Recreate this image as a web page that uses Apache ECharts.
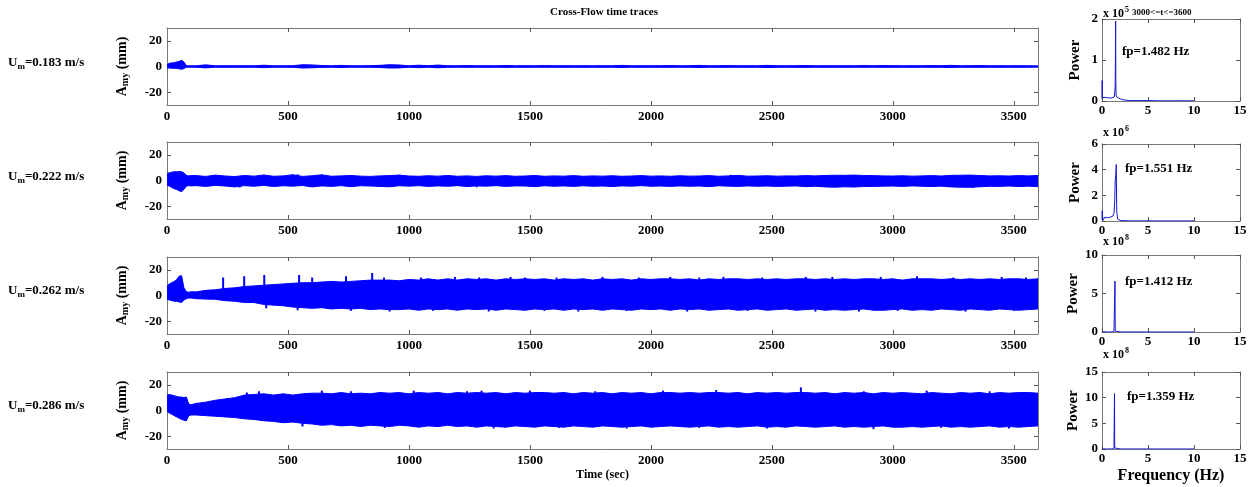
<!DOCTYPE html>
<html><head><meta charset="utf-8">
<script src="https://cdn.jsdelivr.net/npm/echarts@6/dist/echarts.min.js"></script>
<style>html,body{margin:0;padding:0;background:#fff}#c{width:1256px;height:487px}</style>
</head><body><div id="c"></div>
<script>
// ---------- data ----------
const T = [0,10,20,30,40,50,60,70,80,90,100,
120,160,200,240,280,320,360,400,440,480,
520,560,600,640,680,720,760,800,840,880,
920,960,1000,1040,1080,1120,1160,1200,1240,1280,
1320,1360,1400,1440,1480,1520,1560,1600,1640,1680,
1720,1760,1800,1840,1880,1920,1960,2000,2040,2080,
2120,2160,2200,2240,2280,2320,2360,2400,2440,2480,
2520,2560,2600,2640,2680,2720,2760,2800,2840,2880,
2920,2960,3000,3040,3080,3120,3160,3200,3240,3280,
3320,3360,3400,3440,3480,3520,3560,3600];

// Panel 1 (Um=0.183) envelope, mm
const up1 = [1.5,2.5,2.8,3.0,3.5,4.0,4.8,3.5,0.6,0.5,0.5,
0.5,1.3,0.5,0.6,0.5,0.6,0.5,1.0,0.5,0.5,
0.6,1.4,1.2,0.8,0.5,0.9,0.5,0.5,0.6,0.9,
1.4,1.2,0.5,1.0,0.6,1.1,0.6,0.5,0.7,0.5,
0.6,0.5,0.8,0.5,0.6,0.5,0.7,0.5,0.6,0.5,
0.6,0.5,0.6,0.5,0.9,0.5,0.6,0.5,0.6,0.7,
0.5,0.6,0.9,0.5,0.6,0.7,0.5,0.6,0.5,0.9,
0.6,0.5,0.6,0.8,0.5,0.6,0.5,0.6,0.5,0.7,
0.5,0.7,0.6,0.5,0.6,0.5,0.7,0.6,0.9,0.5,
0.6,0.7,0.5,0.6,0.5,0.6,0.5,0.5];
const lo1 = [-1.0,-1.2,-1.3,-1.4,-1.5,-1.8,-2.2,-1.6,-0.6,-0.5,-0.5,
-0.5,-1.1,-0.5,-0.6,-0.5,-0.6,-0.5,-0.9,-0.5,-0.5,
-0.6,-1.2,-1.0,-0.7,-0.5,-0.8,-0.5,-0.5,-0.6,-0.8,
-1.2,-1.1,-0.5,-0.9,-0.6,-1.0,-0.6,-0.5,-0.6,-0.5,
-0.6,-0.5,-0.7,-0.5,-0.6,-0.5,-0.6,-0.5,-0.6,-0.5,
-0.6,-0.5,-0.6,-0.5,-0.8,-0.5,-0.6,-0.5,-0.6,-0.6,
-0.5,-0.6,-0.8,-0.5,-0.6,-0.6,-0.5,-0.6,-0.5,-0.8,
-0.6,-0.5,-0.6,-0.7,-0.5,-0.6,-0.5,-0.6,-0.5,-0.6,
-0.5,-0.6,-0.6,-0.5,-0.6,-0.5,-0.6,-0.6,-0.8,-0.5,
-0.6,-0.6,-0.5,-0.6,-0.5,-0.6,-0.5,-0.5];

// Panel 2 (Um=0.222)
const up2 = [5.5,6.0,6.5,6.8,6.8,7.0,6.8,6.0,4.0,3.6,3.9,
3.8,3.2,4.2,3.5,3.1,3.9,3.4,4.3,3.3,3.6,
4.5,3.2,3.7,4.4,3.3,3.6,3.9,3.4,3.2,3.6,
3.8,4.2,3.5,3.3,3.7,3.4,3.9,3.3,3.6,3.2,
3.7,3.4,3.8,3.3,3.5,3.9,3.3,3.6,3.4,3.8,
3.3,3.6,3.4,3.7,3.3,3.5,3.8,3.4,3.6,3.3,
3.7,3.4,3.5,3.8,3.3,3.6,4.0,3.4,3.5,3.7,
3.4,3.6,3.5,3.8,3.6,3.9,4.1,4.0,4.2,3.9,
3.8,3.6,3.5,3.7,3.4,3.6,3.8,3.5,4.0,4.1,
4.2,3.9,3.6,3.7,3.5,3.8,3.6,3.9];
const lo2 = [-3.5,-4.5,-5.5,-6.5,-7.0,-8.0,-8.7,-7.0,-4.5,-4.0,-4.2,
-4.0,-4.6,-3.8,-4.3,-5.0,-4.0,-4.5,-3.8,-4.7,-4.1,
-4.4,-3.9,-5.0,-4.2,-4.6,-4.0,-4.8,-4.1,-4.3,-4.6,
-4.9,-4.1,-4.4,-4.0,-4.6,-4.2,-4.5,-4.0,-4.7,-4.2,
-4.4,-4.0,-4.6,-4.2,-4.3,-4.8,-4.1,-4.5,-4.2,-4.6,
-4.1,-4.5,-4.3,-4.7,-4.2,-4.4,-4.0,-4.5,-4.3,-4.6,
-4.2,-4.5,-4.3,-4.8,-4.1,-4.4,-4.6,-4.2,-4.5,-4.3,
-4.6,-4.4,-4.2,-4.8,-4.5,-5.0,-5.2,-4.9,-5.1,-4.7,
-4.6,-4.4,-4.3,-4.6,-4.2,-4.5,-4.7,-4.4,-5.0,-5.2,
-5.3,-4.9,-4.5,-4.6,-4.3,-4.7,-4.4,-4.8];

// Panel 3 (Um=0.262)
const up3 = [7.5,9.0,10.0,11.0,12.5,15.0,15.5,6.0,3.0,2.5,3.0,
2.8,4.0,4.5,5.5,6.0,7.0,7.5,8.0,8.5,9.0,
9.5,10.0,10.0,10.5,11.0,10.5,11.0,11.5,12.0,12.0,
12.0,11.5,12.5,12.0,13.0,12.0,13.0,12.0,13.0,12.5,
13.0,12.0,13.0,12.5,13.0,12.5,13.0,12.0,13.0,12.5,
13.0,12.0,13.0,12.5,13.0,12.0,13.0,12.5,13.0,13.0,
12.5,13.0,12.0,13.0,12.5,13.0,13.0,12.5,13.0,12.5,
13.0,12.5,13.0,13.0,12.5,13.0,12.5,13.0,12.5,13.0,
13.0,12.5,13.0,12.0,13.0,13.0,13.0,12.5,13.0,12.5,
13.0,12.5,13.0,12.5,13.0,13.0,12.5,13.0];
const lo3 = [-3.0,-3.5,-4.0,-4.5,-4.5,-5.0,-5.5,-3.5,-2.5,-2.0,-2.0,
-2.5,-2.8,-3.0,-4.0,-4.5,-5.5,-5.5,-7.0,-7.5,-8.0,
-9.0,-9.5,-10.0,-9.5,-10.5,-10.0,-10.5,-10.0,-11.0,-10.5,
-11.0,-11.0,-10.5,-11.5,-10.5,-11.0,-10.5,-11.5,-10.5,-11.0,
-10.5,-11.5,-10.5,-11.0,-11.5,-10.5,-11.0,-10.5,-11.5,-10.5,
-11.0,-10.5,-11.5,-10.5,-11.0,-11.5,-10.5,-11.0,-10.5,-11.5,
-10.5,-11.0,-10.5,-11.5,-11.0,-10.5,-11.5,-11.0,-10.5,-11.5,
-11.0,-10.5,-11.5,-11.0,-10.5,-11.5,-11.0,-11.5,-11.0,-10.5,
-11.5,-11.5,-11.0,-10.5,-11.5,-11.0,-11.5,-10.5,-11.0,-11.5,
-10.5,-11.0,-11.5,-10.5,-11.0,-11.5,-11.0,-10.5];

// Panel 4 (Um=0.286)
const up4 = [12.0,12.5,12.0,11.5,11.0,10.5,10.5,10.0,10.5,5.0,4.5,
5.5,6.5,8.0,9.0,10.0,12.0,12.5,13.0,12.0,13.0,
12.0,13.0,13.5,13.5,13.0,14.0,13.0,13.5,13.0,14.0,
13.5,14.0,13.0,14.0,13.5,14.0,13.0,14.0,13.5,14.0,
13.5,14.0,13.0,14.0,13.5,14.0,14.0,13.5,14.0,13.0,
14.0,13.5,14.0,13.0,14.0,13.5,14.0,13.0,14.0,14.0,
13.5,14.0,13.5,14.0,14.0,13.5,14.0,13.0,14.0,13.5,
14.0,13.5,14.0,14.0,13.5,14.0,13.0,14.0,13.5,14.0,
13.0,14.0,13.5,14.0,13.5,13.0,14.0,13.5,13.0,14.0,
13.5,14.0,13.0,14.0,13.5,14.0,14.0,13.5];
const lo4 = [-0.5,-2.0,-3.0,-4.0,-5.0,-6.0,-7.0,-7.5,-8.0,-4.0,-3.5,
-3.5,-4.0,-4.5,-5.0,-5.5,-6.5,-7.0,-8.0,-8.5,-9.5,
-9.0,-10.0,-10.5,-11.5,-11.0,-12.0,-11.5,-12.5,-11.5,-12.0,
-12.5,-11.5,-12.0,-13.0,-12.0,-12.5,-11.5,-12.5,-12.0,-13.0,
-12.0,-12.5,-13.0,-12.0,-12.5,-13.0,-12.0,-12.5,-13.0,-12.0,
-12.5,-13.0,-12.0,-12.5,-13.0,-12.5,-12.0,-13.0,-12.5,-12.0,
-12.5,-13.0,-12.5,-12.0,-13.0,-12.5,-13.0,-12.5,-12.0,-13.0,
-12.5,-13.0,-12.0,-12.5,-13.0,-12.5,-12.0,-13.0,-12.5,-13.0,
-12.5,-12.0,-13.0,-13.0,-12.5,-13.0,-12.5,-12.0,-13.0,-12.5,
-13.0,-12.5,-12.0,-13.0,-12.5,-13.0,-12.5,-12.0];

// Narrow peaks of the traces: [time s, amplitude mm]
const spk2 = [[300,-5.5],[540,4.8],[640,4.6],[960,4.5],[1280,-5.3],[2330,4.4],[3330,-5.8]];
const spk3 = [[232,14],[319,15],[402,16],[410,-10],[540,-11.5],[546,16],[600,14],[740,15],[760,-12],
[848,17.5],[897,14],[920,-12.5],[1050,14],[1100,-12],[1190,14.5],[1290,14],[1330,-12.5],[1420,14.5],
[1480,14],[1560,-12],[1610,14],[1700,-12.5],[1800,14.5],[1900,-12],[1950,14],[2080,14.5],[2150,-12.5],
[2200,14],[2300,14.5],[2400,-12],[2460,14],[2640,14.5],[2680,-12.5],[2750,14.5],[2860,-12.5],[2950,14.5],
[3020,-12],[3100,15],[3250,14],[3300,-12.5],[3450,14.5],[3500,-12],[3550,14]];
const spk4 = [[330,14],[380,15],[560,-12.5],[640,15.5],[760,15],[900,-13.5],[1020,15.5],[1240,15],[1300,15.5],
[1350,-14],[1500,15.5],[1620,-13.5],[1770,15],[1900,-14],[2050,15.5],[2200,-13.5],[2270,16],[2480,-14],
[2620,18],[2880,15],[2920,-14.5],[3140,15.5],[3200,-13.5],[3400,15],[3480,-14]];

// Spectra (power in units of 10^exp)
const f1 = [0,0.02,0.05,0.1,0.2,0.3,0.45,0.6,0.8,1.0,1.2,1.35,1.43,1.46,1.482,1.5,1.53,1.6,1.8,2.0,2.3,2.6,3.0,4.0,5.0,6.0,7.0,8.0,9.0,10.0];
const p1 = [0.05,0.5,0.08,0.1,0.07,0.09,0.06,0.08,0.05,0.07,0.06,0.1,0.35,1.0,1.95,0.5,0.15,0.1,0.08,0.05,0.03,0.02,0.01,0.01,0.01,0.005,0.005,0.005,0.005,0.005];
const f2 = [0,0.02,0.1,0.2,0.3,0.4,0.5,0.6,0.7,0.8,0.9,1.0,1.1,1.2,1.3,1.38,1.44,1.5,1.551,1.6,1.7,1.85,2.0,2.5,3.0,4.0,5.0,6.0,8.0,10.0];
const p2 = [0.1,0.8,0.05,0.1,0.3,0.2,0.28,0.25,0.32,0.22,0.3,0.35,0.28,0.4,0.6,1.5,3.2,3.6,4.4,0.8,0.15,0.06,0.04,0.02,0.01,0.01,0.01,0.005,0.005,0.005];
const f3 = [0,0.5,1.0,1.3,1.38,1.412,1.44,1.5,2.0,3.0,5.0,10.0];
const p3 = [0.02,0.01,0.015,0.03,0.12,6.6,0.12,0.03,0.01,0.01,0.005,0.005];
const f4 = [0,0.5,1.0,1.3,1.34,1.359,1.38,1.45,2.0,3.0,5.0,10.0];
const p4 = [0.02,0.01,0.015,0.04,0.2,10.8,0.2,0.04,0.01,0.01,0.005,0.005];

const speeds = ['0.183','0.222','0.262','0.286'];
const fpLabels = ['fp=1.482 Hz','fp=1.551 Hz','fp=1.412 Hz','fp=1.359 Hz'];
const exps = ['5','6','8','8'];
const spMax = [2,6,10,15];
const spInt = [1,2,5,5];
const timeLabels = [0,500,1000,1500,2000,2500,3000,3500];
const timeTickVals = [500,1000,1500,2000,2500,3000,3500];
const ampLabels = [-20,0,20];

// ---------- layout ----------
const FONT = 'Liberation Serif';
const BLUE = '#0000ff';
const SPBLUE = '#1515d0';
const tTop = [28,142,257,372], tH = 77, tLeft = 167, tW = 871;
const sTop = [19,144,255,372], sH = [82,77,77,77], sLeft = 1102, sW = 138;
const ups = [up1,up2,up3,up4], los = [lo1,lo2,lo3,lo4];
const spks = [[], spk2, spk3, spk4];
const fs = [f1,f2,f3,f4], ps = [p1,p2,p3,p4];

const grids = [], xAxes = [], yAxes = [], series = [], graphics = [];
const lineC = '#7a7a7a';
const lbl = {color:'#000', fontFamily:FONT, fontWeight:'bold', fontSize:13, formatter:v => String(v)};

for (let i = 0; i < 4; i++) grids.push({left:tLeft, top:tTop[i], width:tW, height:tH});
for (let i = 0; i < 4; i++) grids.push({left:sLeft, top:sTop[i], width:sW, height:sH[i]});

function baseAxis(g, pos, min, max) {
  return {
    gridIndex:g, type:'value', position:pos, min:min, max:max,
    axisLine:{show:true, onZero:false, lineStyle:{color:lineC, width:1}},
    splitLine:{show:false}
  };
}
function tx(g, pos, showLabel, extra) {
  return Object.assign(baseAxis(g,pos,0,3600), {
    axisTick:{show:true, inside:true, length:4, customValues:timeTickVals, lineStyle:{color:'#555'}},
    axisLabel:Object.assign({show:showLabel, customValues:timeLabels, margin:5}, lbl)
  }, extra || {});
}
function ty(g, pos, showLabel, extra) {
  return Object.assign(baseAxis(g,pos,-30,30), {
    interval:10,
    axisTick:{show:true, inside:true, length:4, customValues:ampLabels, lineStyle:{color:'#555'}},
    axisLabel:Object.assign({show:showLabel, customValues:ampLabels, margin:5}, lbl)
  }, extra || {});
}
function sx(g, pos, showLabel, extra) {
  return Object.assign(baseAxis(g,pos,0,15), {
    interval:5,
    axisTick:{show:true, inside:true, length:4, lineStyle:{color:'#555'}},
    axisLabel:Object.assign({show:showLabel, margin:3}, lbl)
  }, extra || {});
}
function sy(g, pos, showLabel, i, extra) {
  return Object.assign(baseAxis(g,pos,0,spMax[i]), {
    interval:spInt[i],
    axisTick:{show:true, inside:true, length:4, lineStyle:{color:'#555'}},
    axisLabel:Object.assign({show:showLabel, margin:4}, lbl)
  }, extra || {});
}

const amyName = {
  name:'{b|A}{s|my}{b| (mm)}', nameLocation:'middle', nameGap:36, nameRotate:90,
  nameTextStyle:{color:'#000', rich:{
    b:{fontFamily:FONT, fontWeight:'bold', fontSize:14, lineHeight:18, color:'#000'},
    s:{fontFamily:FONT, fontWeight:'bold', fontSize:10, lineHeight:18, padding:[7,0,0,0], color:'#000'}
  }}
};
const powerName = {
  name:'Power', nameLocation:'middle', nameGap:19, nameRotate:90,
  nameTextStyle:{color:'#000', fontFamily:FONT, fontWeight:'bold', fontSize:15}
};

for (let i = 0; i < 4; i++) {
  const extraX = i === 3 ? {name:'Time (sec)', nameLocation:'middle', nameGap:20,
    nameTextStyle:{color:'#000', fontFamily:FONT, fontWeight:'bold', fontSize:12}} : {};
  xAxes.push(tx(i,'bottom',true,extraX));
  xAxes.push(tx(i,'top',false));
  yAxes.push(ty(i,'left',true,amyName));
  yAxes.push(ty(i,'right',false));
}
for (let i = 0; i < 4; i++) {
  const g = 4 + i;
  const extraX = i === 3 ? {name:'Frequency (Hz)', nameLocation:'middle', nameGap:19,
    nameTextStyle:{color:'#000', fontFamily:FONT, fontWeight:'bold', fontSize:16}} : {};
  xAxes.push(sx(g,'bottom',true,extraX));
  xAxes.push(sx(g,'top',false));
  yAxes.push(sy(g,'left',true,i,powerName));
  yAxes.push(sy(g,'right',false,i));
}

// time trace envelopes (filled to zero from above and below)
for (let i = 0; i < 4; i++) {
  [ups[i], los[i]].forEach(arr => {
    series.push({
      type:'line', xAxisIndex:2*i, yAxisIndex:2*i, silent:true, animation:false,
      symbol:'none', data:T.map((t,k) => [t, arr[k]]),
      lineStyle:{color:BLUE, width:1}, areaStyle:{color:BLUE, opacity:1}
    });
  });
  series.push({
    type:'line', xAxisIndex:2*i, yAxisIndex:2*i, silent:true, animation:false,
    symbol:'none', data:[[T[0],0],[T[T.length-1],0]], lineStyle:{color:BLUE, width:1.5}
  });
  if (spks[i].length) {
    series.push({
      type:'bar', xAxisIndex:2*i, yAxisIndex:2*i, silent:true, animation:false,
      barWidth:2, data:spks[i], itemStyle:{color:BLUE}
    });
  }
}
// spectra
for (let i = 0; i < 4; i++) {
  const g = 4 + i;
  series.push({
    type:'line', xAxisIndex:2*g, yAxisIndex:2*g, silent:true, animation:false,
    symbol:'none', data:fs[i].map((f,k) => [f, ps[i][k]]),
    lineStyle:{color:SPBLUE, width:1}
  });
}

// texts
graphics.push({type:'text', x:604, y:12, style:{text:'Cross-Flow time traces', fontFamily:FONT,
  fontWeight:'bold', fontSize:11, fill:'#000', align:'center', verticalAlign:'middle'}});
const uY = [63,177,291,406];
for (let i = 0; i < 4; i++) {
  graphics.push({type:'text', x:8, y:uY[i], style:{
    text:'{b|U}{s|m}{b|=' + speeds[i] + ' m/s}', fill:'#000', align:'left', verticalAlign:'middle',
    rich:{
      b:{fontFamily:FONT, fontWeight:'bold', fontSize:13, lineHeight:18, fill:'#000'},
      s:{fontFamily:FONT, fontWeight:'bold', fontSize:9, lineHeight:18, padding:[8,0,0,0], fill:'#000'}
    }}});
}
const xTenY = [14,133,242,355];
for (let i = 0; i < 4; i++) {
  const txt = '{b|x 10}{p|' + exps[i] + '}' + (i === 0 ? '{m|3000<=t<=3600}' : '');
  graphics.push({type:'text', x:1103, y:xTenY[i], style:{
    text:txt, fill:'#000', align:'left', verticalAlign:'middle',
    rich:{
      b:{fontFamily:FONT, fontWeight:'bold', fontSize:12, lineHeight:18, fill:'#000'},
      p:{fontFamily:FONT, fontWeight:'bold', fontSize:8, lineHeight:18, padding:[0,0,8,1], fill:'#000'},
      m:{fontFamily:FONT, fontWeight:'bold', fontSize:9, lineHeight:18, padding:[0,0,3,3], fill:'#000'}
    }}});
}
const fpPos = [[1122,52],[1125,169],[1125,282],[1127,397]];
for (let i = 0; i < 4; i++) {
  graphics.push({type:'text', x:fpPos[i][0], y:fpPos[i][1], style:{text:fpLabels[i],
    fontFamily:FONT, fontWeight:'bold', fontSize:13, fill:'#000', align:'left', verticalAlign:'middle'}});
}

const chart = echarts.init(document.getElementById('c'), null, {renderer:'canvas', width:1256, height:487});
chart.setOption({
  animation:false,
  backgroundColor:'#fff',
  grid:grids, xAxis:xAxes, yAxis:yAxes, series:series, graphic:graphics
});
</script>
</body></html>
